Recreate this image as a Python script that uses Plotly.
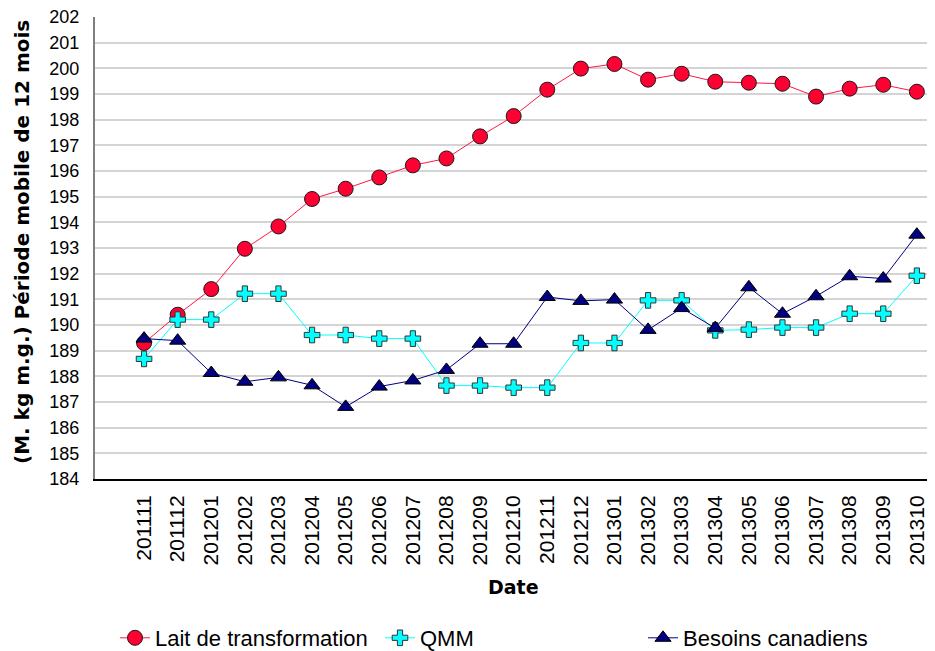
import plotly.graph_objects as go

dates = ["201111", "201112", "201201", "201202", "201203", "201204", "201205", "201206",
         "201207", "201208", "201209", "201210", "201211", "201212", "201301", "201302",
         "201303", "201304", "201305", "201306", "201307", "201308", "201309", "201310"]

lait = [189.30, 190.40, 191.40, 192.97, 193.84, 194.91, 195.31, 195.75,
        196.22, 196.49, 197.35, 198.14, 199.17, 199.99, 200.17, 199.56,
        199.79, 199.48, 199.44, 199.40, 198.90, 199.21, 199.36, 199.09]

qmm = [188.68, 190.21, 190.21, 191.22, 191.22, 189.61, 189.61, 189.47,
       189.47, 187.64, 187.64, 187.56, 187.56, 189.30, 189.30, 190.96,
       190.96, 189.79, 189.82, 189.90, 189.90, 190.44, 190.44, 191.92]

besoins = [189.47, 189.39, 188.13, 187.79, 187.96, 187.65, 186.81, 187.60,
           187.84, 188.25, 189.27, 189.27, 191.09, 190.94, 190.99, 189.81,
           190.66, 189.88, 191.47, 190.44, 191.12, 191.90, 191.81, 193.52]

y_ticks = list(range(184, 203))

# page body has an 8px margin: size the figure so it ends at the window edge
OFF = 8
W, H = 935 - OFF, 651 - OFF
L, T, B = 95 - OFF, 17 - OFF, 172
PW, PH = W - L, H - T - B

def px(xs):
    return (xs - OFF - L) / PW

def py(ys):
    return (H - B - (ys - OFF)) / PH

def cx(xs):
    return (xs - OFF) / W

def cy(ys):
    return 1 - (ys - OFF) / H

fig = go.Figure()
fig.add_trace(go.Scatter(
    x=dates, y=lait, name="Lait de transformation", mode="lines+markers",
    line=dict(color="#FF1744", width=1),
    marker=dict(symbol="circle", size=15, color="#FF0033", line=dict(color="#1a1a1a", width=1)),
    legend="legend"))
fig.add_trace(go.Scatter(
    x=dates, y=qmm, name="QMM", mode="lines+markers",
    line=dict(color="#00FFFF", width=1),
    marker=dict(symbol="cross", size=13, color="#00FFFF", line=dict(color="#333333", width=1)),
    legend="legend2"))
fig.add_trace(go.Scatter(
    x=dates, y=besoins, name="Besoins canadiens", mode="lines+markers",
    line=dict(color="#000080", width=1),
    marker=dict(symbol="triangle-up", size=14, color="#000080", line=dict(color="#000000", width=1)),
    legend="legend3"))

leg_common = dict(orientation="h", yanchor="middle", xanchor="left",
                  xref="container", yref="container",
                  font=dict(family="Liberation Sans, Arial", size=22, color="#000000"),
                  bgcolor="rgba(0,0,0,0)")

fig.update_layout(
    width=W, height=H,
    margin=dict(l=L, r=0, t=T, b=B, autoexpand=False),
    paper_bgcolor="white", plot_bgcolor="white",
    showlegend=True,
    legend=dict(x=cx(115), y=cy(638), **leg_common),
    legend2=dict(x=cx(380), y=cy(638), **leg_common),
    legend3=dict(x=cx(643), y=cy(638), **leg_common),
    xaxis=dict(
        type="category", range=[-1.46, 23.54], automargin=False,
        tickangle=-90, tickfont=dict(family="Liberation Sans, Arial", size=21, color="#000000"),
        showgrid=False, showline=True, linecolor="#000000", linewidth=2,
        ticks="", ticklabelstandoff=6, mirror=False, zeroline=False),
    yaxis=dict(
        range=[184, 202.001], tickvals=y_ticks, ticktext=[str(v) for v in y_ticks],
        automargin=False, ticklabeloverflow="allow",
        tickfont=dict(family="Liberation Sans, Arial", size=18, color="#000000"),
        showgrid=True, gridcolor="#D4D4D4", gridwidth=2,
        showline=True, linecolor="#7F7F7F", linewidth=2,
        ticks="", ticklabelstandoff=10, zeroline=False),
    annotations=[
        dict(text="<b>(M. kg m.g.) Période mobile de 12 mois</b>", textangle=-90,
             xref="paper", yref="paper", x=px(22), y=py(242), xanchor="center", yanchor="middle",
             showarrow=False, font=dict(family="DejaVu Sans", size=20, color="#000000")),
        dict(text="<b>Date</b>", xref="paper", yref="paper", x=px(513), y=py(587),
             xanchor="center", yanchor="middle", showarrow=False,
             font=dict(family="DejaVu Sans", size=19, color="#000000")),
    ],
)

fig.write_html("out.html")
